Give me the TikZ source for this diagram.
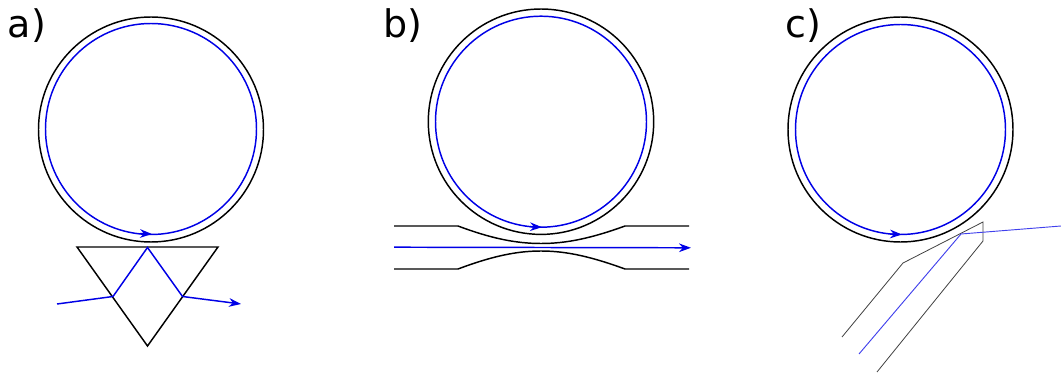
\documentclass[tikz,border=0pt]{standalone}
\usepackage{fontspec}
\setmainfont{DejaVu Sans}
\usepackage{xcolor}
\usepackage{tikz}
\usetikzlibrary{arrows.meta}
\usetikzlibrary{positioning}
\definecolor{raio}{RGB}{0,0,230}
\tikzset{
  parede/.style={draw=black, line width=1.1pt},
  fino/.style={draw=black!75, line width=0.6pt},
  luz/.style={draw=raio, line width=1.1pt},
  luzfina/.style={draw=raio!75, line width=0.7pt},
  seta/.style={-{Stealth[length=9pt,width=6.5pt]}},
  rotulo/.style={font=\fontsize{28.5}{28.5}\selectfont, anchor=base west, inner sep=0pt},
}
\begin{document}
\begin{tikzpicture}[x=0.75pt, y=-0.75pt]
  \useasboundingbox (0,0) rectangle (1061,374);
  % a) prism
  \node[rotulo] (rotuloa) at (7.5,38) {a)};
  \draw[parede] (151,129.5) circle [radius=112.5];
  \draw[luz] (151,129) circle [radius=105.5];
  \coordinate (anelAa) at (140,233.5);
  \coordinate (anelAb) at (152,234);
  \draw[luz, seta] (anelAa) -- (anelAb);
  \coordinate (pa) at (77,247);
  \coordinate (pb) at (218,247);
  \coordinate (pc) at (147.5,346);
  \draw[parede] (pa) -- (pb) -- (pc) -- cycle;
  \coordinate (ra) at (57,304);
  \coordinate (rb) at (113,296.5);
  \coordinate (rc) at (147.5,247.5);
  \coordinate (rd) at (182.5,296.5);
  \coordinate (re) at (241,304);
  \draw[luz, seta] (ra) -- (rb) -- (rc) -- (rd) -- (re);
  % b) waveguide
  \node[rotulo] (rotulob) at (383.5,38) {b)};
  \draw[parede] (541,121.7) circle [radius=112.7];
  \draw[luz] (541,121.7) circle [radius=105.5];
  \coordinate (anelBa) at (530,226.7);
  \coordinate (anelBb) at (542,227.2);
  \draw[luz, seta] (anelBa) -- (anelBb);
  \coordinate (gaa) at (394,226);
  \coordinate (gab) at (458,226);
  \coordinate (gac) at (625,226);
  \coordinate (gad) at (689,226);
  \coordinate (gba) at (394,269);
  \coordinate (gbb) at (458,269);
  \coordinate (gbc) at (625,269);
  \coordinate (gbd) at (689,269);
  \draw[parede] (gaa) -- (gab) .. controls (490,238) and (515,243.5) .. (541,243.5) .. controls (567,243.5) and (592,238) .. (gac) -- (gad);
  \draw[parede] (gba) -- (gbb) .. controls (490,257) and (515,251) .. (541,251) .. controls (567,251) and (592,257) .. (gbc) -- (gbd);
  \coordinate (la) at (394,247.2);
  \coordinate (lb) at (691,247.8);
  \draw[luz, seta] (la) -- (lb);
  % c) fibre
  \node[rotulo] (rotuloc) at (785.5,38) {c)};
  \draw[parede] (900.5,129.5) circle [radius=112.5];
  \draw[luz] (900.5,129.5) circle [radius=105];
  \coordinate (anelCa) at (890,234);
  \coordinate (anelCb) at (902,234.5);
  \draw[luz, seta] (anelCa) -- (anelCb);
  \coordinate (fa) at (842,337);
  \coordinate (fb) at (903,263);
  \coordinate (fc) at (983,222);
  \coordinate (fd) at (983,241);
  \coordinate (fe) at (877,372);
  \draw[fino] (fa) -- (fb) -- (fc) -- (fd) -- (fe);
  \coordinate (fg) at (859,354);
  \coordinate (fh) at (961,234);
  \coordinate (fi) at (1061,226);
  \draw[luzfina] (fg) -- (fh) -- (fi);
\end{tikzpicture}
\end{document}
